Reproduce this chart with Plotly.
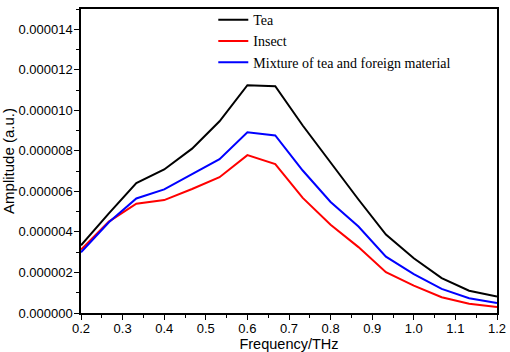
import plotly.graph_objects as go

freq = [0.2, 0.267, 0.333, 0.4, 0.467, 0.533, 0.6, 0.667, 0.733, 0.8, 0.867, 0.933, 1.0, 1.067, 1.133, 1.2]
tea = [3.34, 4.92, 6.41, 7.08, 8.11, 9.46, 11.24, 11.19, 9.25, 7.40, 5.60, 3.87, 2.70, 1.72, 1.10, 0.81]
insect = [3.13, 4.51, 5.39, 5.57, 6.12, 6.70, 7.79, 7.35, 5.68, 4.35, 3.25, 2.01, 1.35, 0.78, 0.46, 0.29]
mixture = [3.00, 4.48, 5.65, 6.10, 6.85, 7.59, 8.92, 8.76, 7.03, 5.48, 4.27, 2.78, 1.92, 1.19, 0.73, 0.49]

names = ["Tea", "Insect", "Mixture of tea and foreign material"]
colors = ["#000000", "#ff0000", "#0000ff"]
series = [tea, insect, mixture]

fig = go.Figure()
for name, col, vals in zip(names, colors, series):
    fig.add_trace(go.Scatter(x=freq, y=[v * 1e-6 for v in vals], mode="lines", name=name,
                             line=dict(color=col, width=2)))

sans = "Liberation Sans, Arial"
axis_common = dict(showline=True, linecolor="black", linewidth=1.5, mirror=True,
                   ticks="outside", tickcolor="black", tickwidth=1.2, ticklen=5,
                   showgrid=False, zeroline=False, automargin=False,
                   tickfont=dict(family=sans, size=13, color="black"))

fig.update_layout(
    width=510, height=352,
    margin=dict(l=81, r=13, t=4, b=39),
    paper_bgcolor="white", plot_bgcolor="white",
    showlegend=True,
    legend=dict(x=0.318, y=1.016, xanchor="left", yanchor="top",
                bgcolor="rgba(0,0,0,0)", borderwidth=0,
                font=dict(family="Liberation Serif, Times New Roman", size=14, color="black"),
                tracegroupgap=0, itemwidth=30),
    xaxis=dict(range=[0.2, 1.2], dtick=0.1, tickformat=".1f", ticklabelstandoff=-2,
               minor=dict(ticks="outside", dtick=0.05, ticklen=3, tickcolor="black", tickwidth=1),
               title=dict(text="Frequency/THz", font=dict(family=sans, size=14.5, color="black"), standoff=0),
               **axis_common),
    yaxis=dict(range=[0, 1.5e-5], dtick=2e-6, tickformat=".6f", ticklabelstandoff=-1,
               minor=dict(ticks="outside", dtick=1e-6, ticklen=3, tickcolor="black", tickwidth=1),
               title=dict(text="Amplitude (a.u.)", font=dict(family=sans, size=15, color="black"), standoff=5),
               **axis_common),
)

fig.write_html("out.html", config={"displayModeBar": False},
               post_script="document.body.style.margin='0';")
